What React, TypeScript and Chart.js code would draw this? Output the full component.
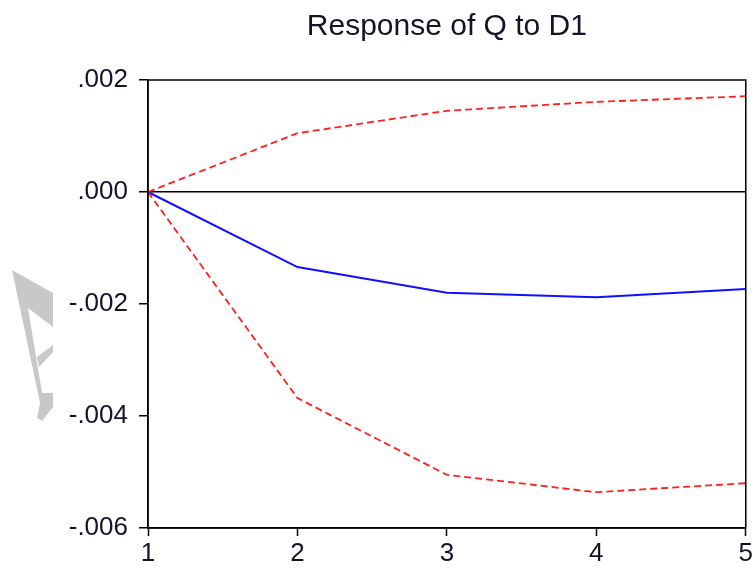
import React, { useEffect, useRef } from "react";
import { Chart, registerables } from "chart.js";

Chart.register(...registerables);

const periods = ["1", "2", "3", "4", "5"];
const response = [0, -0.00134, -0.0018, -0.00188, -0.00173];
const upperBand = [0, 0.00105, 0.00145, 0.00161, 0.00171];
const lowerBand = [0, -0.00368, -0.00505, -0.00536, -0.0052];
const titleText = "Response of Q to D1";
const yMin = -0.006;
const yMax = 0.002;
const yStep = 0.002;

const FONT = "'Liberation Sans', Arial, sans-serif";

const fmt = (v: number) => {
  const s = Math.abs(v) < 1e-12 ? "0.000" : v.toFixed(3);
  return s.replace("0.", ".");
};

const framePlugin = {
  id: "frame",
  afterDraw(chart: any) {
    const { ctx, chartArea } = chart;
    ctx.save();
    ctx.strokeStyle = "#000";
    ctx.lineWidth = 1.5;
    ctx.strokeRect(chartArea.left, chartArea.top, chartArea.right - chartArea.left, chartArea.bottom - chartArea.top);
    ctx.fillStyle = "#141428";
    ctx.font = `30px ${FONT}`;
    ctx.textAlign = "center";
    ctx.textBaseline = "middle";
    ctx.fillText(titleText, (chartArea.left + chartArea.right) / 2, 27);
    ctx.restore();
  },
};

export default function App() {
  const ref = useRef<HTMLCanvasElement>(null);
  useEffect(() => {
    if (!ref.current) return;
    const chart = new Chart(ref.current, {
      type: "line",
      data: {
        labels: periods,
        datasets: [
          {
            data: upperBand,
            borderColor: "#ff2020",
            borderWidth: 1.8,
            borderDash: [7, 4],
            pointRadius: 0,
            fill: false,
            tension: 0,
          },
          {
            data: lowerBand,
            borderColor: "#ff2020",
            borderWidth: 1.8,
            borderDash: [7, 4],
            pointRadius: 0,
            fill: false,
            tension: 0,
          },
          {
            data: response,
            borderColor: "#1010ff",
            borderWidth: 2,
            pointRadius: 0,
            fill: false,
            tension: 0,
          },
        ],
      },
      options: {
        animation: false,
        responsive: false,
        maintainAspectRatio: false,
        layout: { padding: { left: 0, right: 8, top: 80, bottom: 0 } },
        plugins: { legend: { display: false }, tooltip: { enabled: false }, title: { display: false } },
        scales: {
          x: {
            offset: false,
            grid: {
              display: true,
              drawOnChartArea: false,
              drawTicks: true,
              tickLength: 8,
              tickColor: "#000",
              tickWidth: 1.5,
            },
            border: { display: true, color: "#000", width: 1.5 },
            ticks: {
              color: "#141428",
              font: { family: FONT, size: 26 },
              padding: 2,
              maxRotation: 0,
              autoSkip: false,
            },
            afterFit: (s: any) => {
              s.height = 43;
            },
          },
          y: {
            min: yMin,
            max: yMax,
            grid: {
              display: true,
              drawOnChartArea: true,
              drawTicks: true,
              tickLength: 9,
              tickColor: "#000",
              tickWidth: 1.5,
              lineWidth: 1.5,
              color: (c: any) => (c.tick && Math.abs(c.tick.value) < 1e-12 ? "#000" : "rgba(0,0,0,0)"),
            },
            border: { display: true, color: "#000", width: 1.5 },
            ticks: {
              stepSize: yStep,
              color: "#141428",
              font: { family: FONT, size: 26 },
              padding: 11,
              callback: (v: any) => fmt(Number(v)),
            },
            afterFit: (s: any) => {
              s.width = 148;
            },
          },
        },
      },
      plugins: [framePlugin],
    });
    return () => chart.destroy();
  }, []);

  return (
    <div style={{ position: "fixed", left: 0, top: 0, width: 755, height: 571, background: "#fff" }}>
      <canvas ref={ref} width={755} height={571} style={{ display: "block", width: 755, height: 571 }} />
      <svg width={60} height={440} style={{ position: "absolute", left: 0, top: 0, pointerEvents: "none" }}>
        <polygon
          points="12,270 53,293 53,327 28,308 42,393 53,393 53,407 42,421 37,418 40,403"
          fill="#c8c8c8"
        />
        <polygon points="37,357 53,345 53,352 39,367" fill="#c8c8c8" />
      </svg>
    </div>
  );
}
